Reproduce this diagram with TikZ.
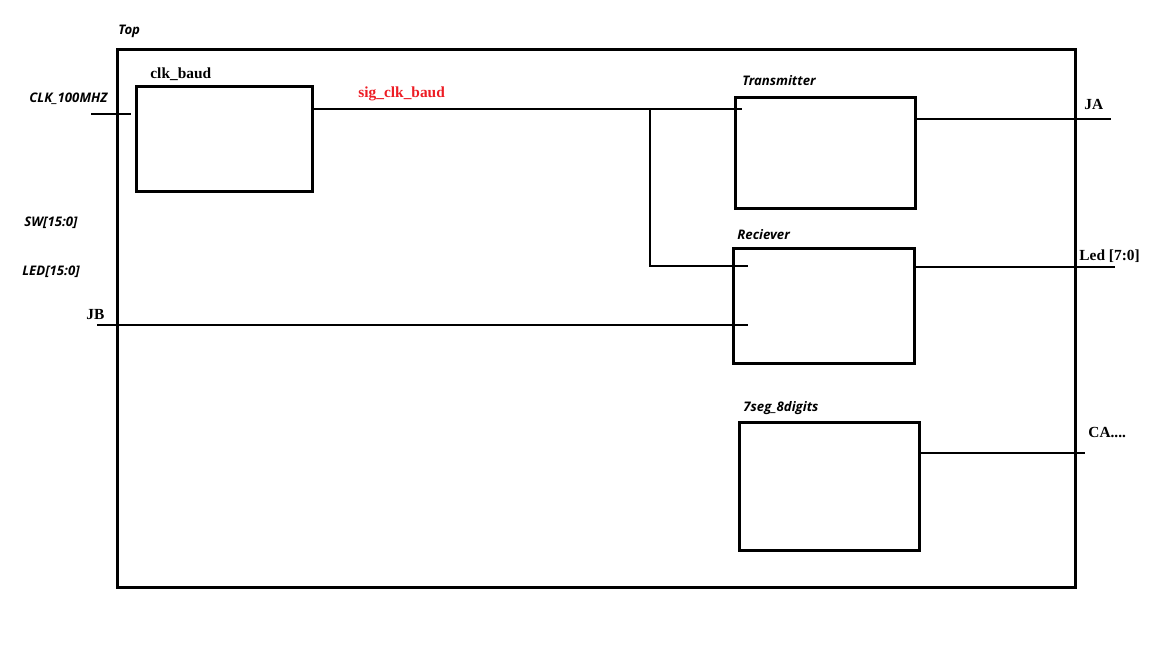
\documentclass[tikz,border=0pt]{standalone}
\usepackage{fontspec}
\setmainfont{Liberation Serif}
\setsansfont{Open Sans}
\usetikzlibrary{positioning}
\definecolor{sigred}{RGB}{237,28,36}

\tikzset{
  block/.style={draw, line width=1.5pt, anchor=north west, inner sep=0pt},
  wire/.style={line width=0.6pt},
  blklbl/.style={anchor=base west, inner sep=0pt, font=\sffamily\bfseries\itshape\fontsize{6.6}{7.5}\selectfont},
  portlbl/.style={anchor=base west, inner sep=0pt, font=\rmfamily\bfseries\fontsize{7.7}{9}\selectfont},
}

\begin{document}
\begin{tikzpicture}[x=0.5pt, y=-0.5pt]
  \useasboundingbox (0,0) rectangle (1152,648);

  % blocks
  \node[block, minimum width=478.75pt, minimum height=268.75pt] (top) at (116,48) {};
  \node[block, minimum width=87.75pt, minimum height=52.25pt] (clkbaud) at (135,85) {};
  \node[block, minimum width=89.75pt, minimum height=55.25pt] (tx) at (734,96) {};
  \node[block, minimum width=90.25pt, minimum height=57.25pt] (rx) at (732,247) {};
  \node[block, minimum width=89.75pt, minimum height=63.75pt] (seg) at (738,421) {};

  % block names
  \node[blklbl] (toplbl) at (118,34) {Top};
  \node[portlbl] (clklbl) at (150,78) {clk\_baud};
  \node[blklbl] (txlbl) at (742,85) {Transmitter};
  \node[blklbl] (rxlbl) at (737,239) {Reciever};
  \node[blklbl] (seglbl) at (743,411) {7seg\_8digits};

  % ports
  \node[blklbl] (clkname) at (29,102) {CLK\_100MHZ};
  \node[blklbl] (swname) at (24,226) {SW[15:0]};
  \node[blklbl] (ledname) at (22,275) {LED[15:0]};
  \node[portlbl] (jbname) at (86,319) {JB};
  \node[portlbl] (janame) at (1084,109) {JA};
  \node[portlbl] (ledoname) at (1079,260) {Led [7:0]};
  \node[portlbl] (caname) at (1088,437) {CA....};
  \node[portlbl, text=sigred] (siglbl) at (358,97) {sig\_clk\_baud};

  % wire ends
  \coordinate (clkin) at (91,114);
  \coordinate (sigout) at (313,109);
  \coordinate (split) at (650,109);
  \coordinate (rxclk) at (748,266);
  \coordinate (jbin) at (97,325);
  \coordinate (jaout) at (1111,119);
  \coordinate (ledout) at (1115,267);
  \coordinate (caout) at (1085,453);

  % wires
  \draw[wire] (clkin) -- ([xshift=-2pt]clkin -| clkbaud.west);
  \draw[wire] (sigout) -- ([xshift=4pt]sigout -| tx.west);
  \draw[wire] (split) -- (split |- rxclk) -- (rxclk);
  \draw[wire] (jbin) -- ([xshift=8pt]jbin -| rx.west);
  \draw[wire] (jaout -| tx.east) -- (jaout);
  \draw[wire] (ledout -| rx.east) -- (ledout);
  \draw[wire] (caout -| seg.east) -- (caout);
\end{tikzpicture}
\end{document}
